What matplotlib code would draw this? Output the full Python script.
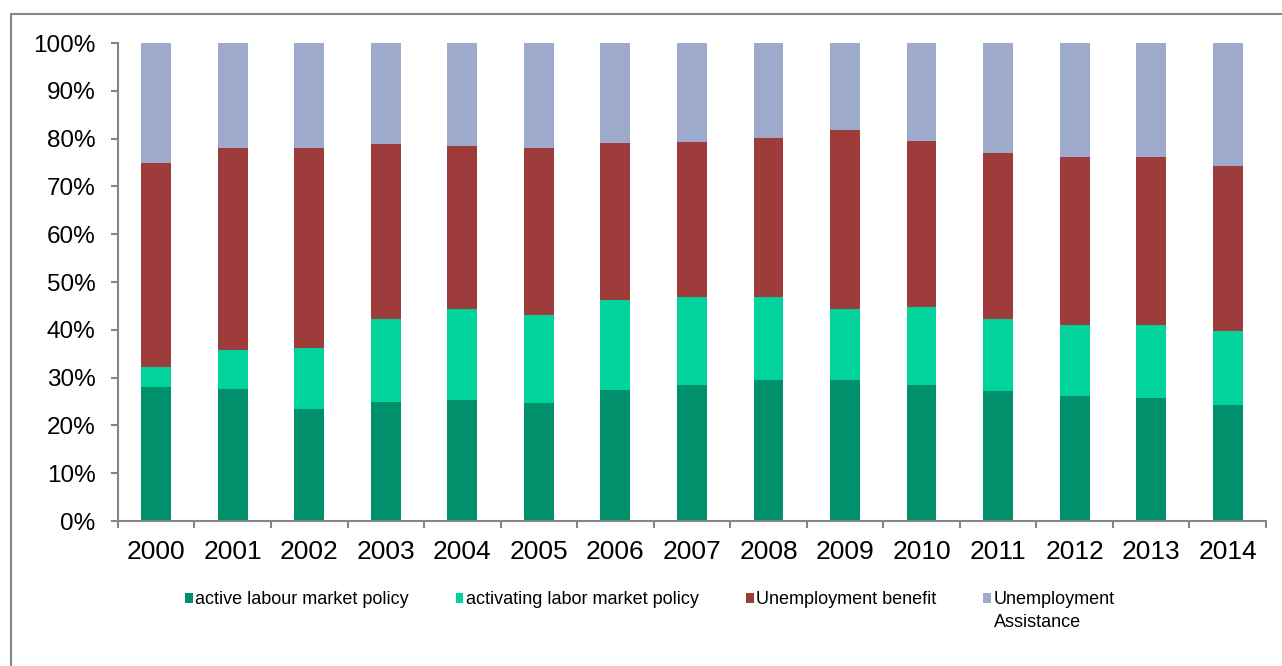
import matplotlib.pyplot as plt
import matplotlib.patches as mpatches
import numpy as np

plt.rcParams['font.family'] = ['Liberation Sans', 'DejaVu Sans']

# data ---------------------------------------
years = ['2000', '2001', '2002', '2003', '2004', '2005', '2006', '2007',
         '2008', '2009', '2010', '2011', '2012', '2013', '2014']
active = [28.1, 27.6, 23.4, 25.0, 25.3, 24.7, 27.4, 28.5, 29.5, 29.5, 28.5, 27.1, 26.1, 25.8, 24.3]
activating = [4.2, 8.2, 12.9, 17.3, 19.1, 18.4, 18.8, 18.3, 17.3, 14.9, 16.2, 15.2, 14.9, 15.2, 15.4]
benefit = [42.5, 42.2, 41.7, 36.5, 34.1, 34.9, 32.8, 32.5, 33.3, 37.5, 34.9, 34.6, 35.2, 35.2, 34.6]
assistance = [25.2, 22.0, 22.0, 21.2, 21.5, 22.0, 21.0, 20.7, 19.9, 18.1, 20.4, 23.1, 23.8, 23.8, 25.7]

series = [active, activating, benefit, assistance]
labels = ['active labour market policy', 'activating labor market policy',
          'Unemployment benefit', 'Unemployment']
colors = ['#00906C', '#00D39B', '#9E3C3B', '#9DAACC']

grey = '#868686'

# plot ---------------------------------------
fig = plt.figure(figsize=(12.82, 6.66), dpi=100)
ax = fig.add_axes([0.092, 0.2177, 0.8955, 0.7177])

x = np.arange(len(years))
bottom = np.zeros(len(years))
for vals, lab, col in zip(series, labels, colors):
    ax.bar(x, vals, width=0.39, bottom=bottom, color=col, label=lab,
           edgecolor='none')
    bottom = bottom + np.array(vals)

ax.set_xlim(-0.5, len(years) - 0.5)
ax.set_ylim(0, 100)

ax.spines['top'].set_visible(False)
ax.spines['right'].set_visible(False)
for s in ['left', 'bottom']:
    ax.spines[s].set_color(grey)
    ax.spines[s].set_linewidth(1.5)

ax.set_yticks(np.arange(0, 101, 10))
ax.set_yticklabels([str(v) + '%' for v in range(0, 101, 10)])
ax.tick_params(axis='y', length=5, width=1.5, color=grey, pad=11, labelsize=17.5)

ax.set_xticks(np.arange(-0.5, len(years), 1.0))
ax.set_xticklabels([])
ax.set_xticks(x, minor=True)
ax.set_xticklabels(years, minor=True)
ax.tick_params(axis='x', which='major', length=5, width=1.5, color=grey)
ax.tick_params(axis='x', which='minor', length=0, pad=14, labelsize=19)

# legend -------------------------------------
leg = fig.legend(loc='upper left', bbox_to_anchor=(0.1443, 0.112), ncol=4,
                 frameon=False, fontsize=13, handlelength=0.42, handleheight=0.42,
                 handletextpad=0.15, columnspacing=2.6, borderaxespad=0,
                 borderpad=0)
fig.canvas.draw()
bb = leg.get_texts()[3].get_window_extent()
fig.text(bb.x0 / fig.bbox.width, (bb.y0 - 6) / fig.bbox.height, 'Assistance',
         fontsize=13, va='top', ha='left')

# outer frame
frame = mpatches.Rectangle((11 / 1282, -0.1), 1.2, 1.1 + (1 - 14 / 666) - 1.0,
                           transform=fig.transFigure, fill=False,
                           edgecolor=grey, linewidth=1.5, clip_on=False)
fig.patches.append(frame)

fig.savefig('out.png', dpi=100)
